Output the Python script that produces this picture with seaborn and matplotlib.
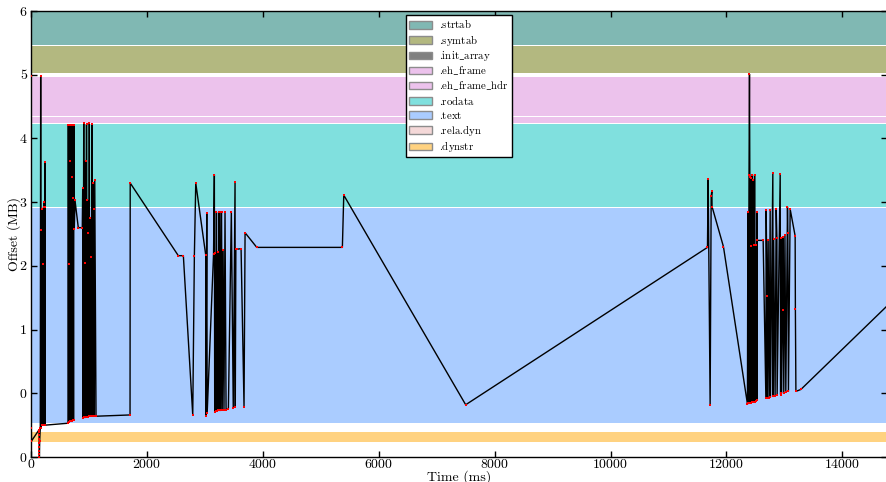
import numpy as np
import pandas as pd
import matplotlib
matplotlib.use("Agg")
import matplotlib.pyplot as plt
from matplotlib.patches import Patch, Rectangle
from matplotlib.legend_handler import HandlerPatch
from matplotlib.ticker import FuncFormatter, MultipleLocator
import seaborn as sns

# ---------------- data ----------------
# section bands (offsets in millions of bytes)
section_names = [".strtab", ".symtab", ".init_array", ".eh_frame", ".eh_frame_hdr",
                 ".rodata", ".text", ".rela.dyn", ".dynstr"]
section_lo = [6.47, 6.02, 5.995, 5.35, 5.24, 3.93, 0.538, 0.45, 0.23]
section_hi = [7.02, 6.45, 5.996, 5.965, 5.335, 5.225, 3.915, 0.451, 0.397]
section_colors = ["#80b8b3", "#b3b880", "#808080", "#ecc2ec", "#ecc2ec",
                  "#80e0de", "#aaccff", "#f4d8d8", "#ffd280"]

# access trace: time (ms) and file offset (millions of bytes)
time_ms = [
    2, 5, 8, 133, 138, 139, 140, 141, 142, 143, 144, 145, 150, 160, 167, 172,
    180, 186, 192, 198, 204, 210, 216, 222, 228, 234, 240, 242, 246, 639,
    644, 650, 656, 662, 668, 674, 680, 686, 692, 698, 704, 710, 716, 722, 728, 734, 740, 747,
    759, 816, 885,
    892, 898, 910, 918, 926, 934, 942, 950, 958, 966, 974, 982, 990, 998, 1006, 1014,
    1022, 1030, 1038, 1046, 1054, 1062, 1070, 1078, 1086, 1093, 1100, 1122,
    1709, 1712, 2542, 2629, 2791, 2819, 2843, 3015, 3017, 3033, 3040, 3150, 3164, 3170,
    3180, 3190, 3200, 3210, 3220, 3230, 3240, 3250, 3260, 3274, 3288, 3300, 3315, 3330,
    3348, 3366, 3406, 3457, 3490, 3521, 3525, 3535, 3550, 3625, 3676, 3694, 3896,
    5373, 5397, 7501, 11673, 11685, 11719, 11737, 11749, 11752, 11949, 12363,
    12370, 12378, 12390, 12398, 12404, 12410, 12418, 12426, 12432, 12440, 12450, 12460,
    12470, 12478, 12486, 12496, 12506, 12514, 12525, 12528, 12531, 12634, 12681, 12686,
    12700, 12705, 12720, 12735, 12755, 12760, 12801, 12805, 12815, 12840, 12859, 12871,
    12875, 12928, 12935, 12940, 12950, 12968, 12975, 12990, 13010, 13025, 13054, 13060,
    13070, 13100, 13186, 13190, 13199, 13285, 14771,
]
offset_m = [
    5.98, 0.45, 0.25, 0.42, 0.40, 0.34, 0.28, 0.22, 0.16, 0.10, 0.04, 0.0, 0.25, 0.45, 5.98, 0.45,
    3.56, 0.50, 3.90, 0.50, 3.03, 0.50, 3.92, 0.50, 4.00, 0.50, 3.92, 4.63, 0.50, 0.53,
    5.21, 0.55, 3.03, 0.55, 5.21, 0.56, 4.64, 0.56, 5.21, 0.57, 4.40, 0.57, 5.21, 0.58, 4.06, 0.58, 5.21, 3.58,
    4.03, 3.60, 3.60,
    4.22, 0.61, 5.24, 0.62, 3.05, 0.62, 4.64, 0.63, 5.22, 0.63, 4.03, 0.63, 3.52, 0.64, 5.24, 0.64,
    3.75, 0.64, 3.14, 0.64, 5.22, 0.65, 4.30, 0.65, 3.90, 0.65, 4.35, 0.64,
    0.66, 4.30, 3.16, 3.16, 0.66, 3.16, 4.30, 3.17, 0.64, 3.83, 0.69, 3.19, 4.43, 0.71,
    3.20, 0.72, 3.84, 0.72, 3.22, 0.73, 3.84, 0.73, 3.84, 0.73, 3.84, 0.74, 3.25, 0.74,
    3.84, 0.74, 0.76, 3.85, 0.77, 4.32, 0.79, 3.26, 3.26, 3.27, 0.79, 3.52, 3.29,
    3.29, 4.11, 0.82, 3.29, 4.36, 0.82, 4.09, 4.18, 3.93, 3.30, 0.83,
    3.85, 0.84, 4.43, 6.01, 4.40, 0.85, 4.38, 3.31, 0.85, 4.43, 0.86, 4.35,
    3.32, 0.86, 4.43, 0.87, 3.33, 0.88, 3.85, 0.90, 3.40, 3.40, 0.92, 3.88,
    2.52, 0.93, 3.41, 0.93, 3.88, 0.94, 4.46, 0.95, 3.42, 0.96, 3.90, 3.43,
    0.97, 4.44, 0.98, 3.43, 1.00, 2.30, 3.45, 1.01, 3.49, 1.02, 3.92, 3.51,
    1.03, 3.89, 3.47, 2.33, 1.03, 1.06, 2.37,
]

x_max_ms = 14771
y_max_m = 7.0

# ---------------- style ----------------
plt.rcParams["font.family"] = ["cmr10", "DejaVu Serif"]
plt.rcParams["mathtext.fontset"] = "cm"
plt.rcParams["axes.formatter.use_mathtext"] = True
plt.rcParams["xtick.direction"] = "in"
plt.rcParams["ytick.direction"] = "in"
plt.rcParams["xtick.top"] = True
plt.rcParams["ytick.right"] = True
plt.rcParams["xtick.major.size"] = 4
plt.rcParams["ytick.major.size"] = 4

df = pd.DataFrame({"time": time_ms, "offset": np.array(offset_m) * 1e6})

fig = plt.figure(figsize=(8.86, 4.82), dpi=100)
ax = fig.add_axes([31 / 886, 25 / 482, 856 / 886, 446 / 482])
ax.set_facecolor("white")

for lo, hi, c in zip(section_lo, section_hi, section_colors):
    ax.axhspan(lo * 1e6, hi * 1e6, color=c, lw=0, zorder=0)

sns.lineplot(data=df, x="time", y="offset", sort=False, estimator=None,
             color="black", lw=1.0, ax=ax, zorder=2)
sns.scatterplot(data=df, x="time", y="offset", color="red", marker="s", s=4,
                linewidth=0, ax=ax, zorder=3)

ax.set_xlim(0, x_max_ms)
ax.set_ylim(0, y_max_m * 1e6)
ax.xaxis.set_major_locator(MultipleLocator(2000))
ax.yaxis.set_major_locator(MultipleLocator(1e6))
ax.yaxis.set_major_formatter(FuncFormatter(lambda v, p: "%d" % int(v / 2 ** 20)))
ax.tick_params(axis="both", labelsize=10, width=1, colors="black")
ax.tick_params(axis="x", pad=0.5)
ax.tick_params(axis="y", pad=3)
for s in ax.spines.values():
    s.set_linewidth(1)
    s.set_color("black")

ax.set_xlabel("Time (ms)", fontsize=10)
ax.set_ylabel("Offset (MB)", fontsize=10)
ax.xaxis.set_label_coords(0.5, -0.029)
ax.xaxis.label.set_va("top")
ax.yaxis.set_label_coords(-0.012, 0.5)


def legend_text(name):
    # cmr10 has no real underscore glyph; draw it through mathtext
    return r"$\,\!$" + name.replace("_", r"$\_$")


def swatch(legend, orig_handle, xdescent, ydescent, width, height, fontsize):
    # small swatch sitting on the text baseline inside a taller (uniform) row box
    return Rectangle((-xdescent, 0.0), width, 0.68 * fontsize)


handles = [Patch(facecolor=c, edgecolor="#8c8c8c", lw=1) for c in section_colors]
leg = ax.legend(handles, [legend_text(n) for n in section_names], loc="upper center",
                fontsize=7.8, frameon=True, fancybox=False, framealpha=1,
                borderaxespad=0.35, handlelength=2.1, handletextpad=0.7,
                handleheight=1.45, labelspacing=0.12, borderpad=0.25,
                handler_map={Patch: HandlerPatch(patch_func=swatch)})
leg.get_frame().set_edgecolor("black")
leg.get_frame().set_linewidth(1)

fig.savefig("out.png", dpi=100)
